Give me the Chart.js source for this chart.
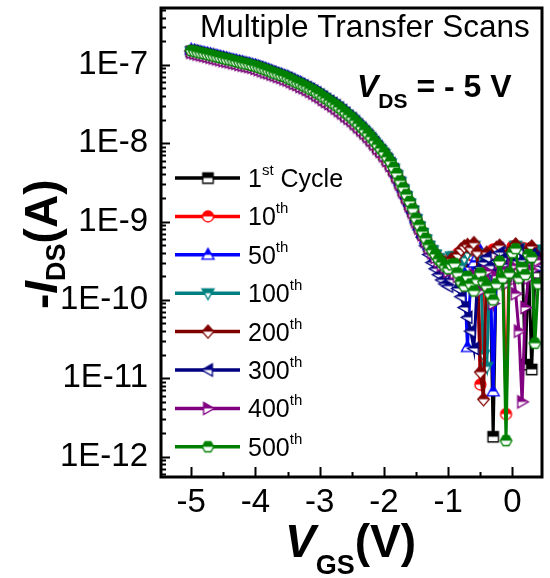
<!DOCTYPE html>
<html>
<head>
<meta charset="utf-8">
<script src="https://cdn.jsdelivr.net/npm/chart.js@4.4.1/dist/chart.umd.min.js"></script>
<style>
  html, body { margin: 0; padding: 0; background: #fff; }
</style>
</head>
<body>
<canvas id="transferChart" width="550" height="578"></canvas>
<script>
// gate voltage sweep (V), 50 mV steps
const vgs = [-5.00, -4.95, -4.90, -4.85, -4.80, -4.75, -4.70, -4.65, -4.60, -4.55,
             -4.50, -4.45, -4.40, -4.35, -4.30, -4.25, -4.20, -4.15, -4.10, -4.05,
             -4.00, -3.95, -3.90, -3.85, -3.80, -3.75, -3.70, -3.65, -3.60, -3.55,
             -3.50, -3.45, -3.40, -3.35, -3.30, -3.25, -3.20, -3.15, -3.10, -3.05,
             -3.00, -2.95, -2.90, -2.85, -2.80, -2.75, -2.70, -2.65, -2.60, -2.55,
             -2.50, -2.45, -2.40, -2.35, -2.30, -2.25, -2.20, -2.15, -2.10, -2.05,
             -2.00, -1.95, -1.90, -1.85, -1.80, -1.75, -1.70, -1.65, -1.60, -1.55,
             -1.50, -1.45, -1.40, -1.35, -1.30, -1.25, -1.20, -1.15, -1.10, -1.05,
             -1.00, -0.95, -0.90, -0.85, -0.80, -0.75, -0.70, -0.65, -0.60, -0.55,
             -0.50, -0.45, -0.40, -0.35, -0.30, -0.25, -0.20, -0.15, -0.10, -0.05,
              0.00,  0.05,  0.10,  0.15,  0.20,  0.25,  0.30,  0.35,  0.40];

// -I_DS (A) for each scan
const cycle1 = [1.48e-7, 1.45e-7, 1.41e-7, 1.38e-7, 1.35e-7, 1.32e-7, 1.29e-7, 1.26e-7, 1.23e-7, 1.20e-7,
                1.17e-7, 1.145e-7, 1.12e-7, 1.095e-7, 1.07e-7, 1.045e-7, 1.02e-7, 1.00e-7, 9.8e-8, 9.55e-8,
                9.3e-8, 9.0e-8, 8.7e-8, 8.4e-8, 8.1e-8, 7.85e-8, 7.6e-8, 7.35e-8, 7.1e-8, 6.85e-8,
                6.6e-8, 6.3e-8, 6.0e-8, 5.75e-8, 5.5e-8, 5.25e-8, 5.0e-8, 4.75e-8, 4.5e-8, 4.25e-8,
                4.0e-8, 3.75e-8, 3.5e-8, 3.3e-8, 3.1e-8, 2.9e-8, 2.7e-8, 2.5e-8, 2.3e-8, 2.15e-8,
                2.0e-8, 1.82e-8, 1.66e-8, 1.52e-8, 1.38e-8, 1.25e-8, 1.12e-8, 1.0e-8, 8.9e-9, 8.0e-9,
                7.1e-9, 6.2e-9, 5.4e-9, 4.6e-9, 3.8e-9, 3.1e-9, 2.5e-9, 2.05e-9, 1.66e-9, 1.35e-9,
                1.05e-9, 8.5e-10, 7.0e-10, 5.8e-10, 4.8e-10, 4.2e-10, 3.7e-10, 3.3e-10, 3.0e-10, 2.8e-10,
                2.6e-10, 3.3e-10, 3.2e-10, 3.0e-10, 2.9e-10, 2.7e-10, 2.6e-10, 3.3e-10, 3.8e-10, 3.0e-10,
                2.4e-10, 2.9e-10, 3.1e-10, 2.6e-10, 1.8e-12, 3.0e-10, 3.4e-10, 2.7e-10, 2.0e-10, 3.5e-10,
                4.1e-10, 3.2e-10, 2.5e-10, 3.6e-10, 1.5e-11, 3.3e-10, 1.3e-11, 2.2e-10, 3.0e-10];
const cycle10 = [1.47e-7, 1.44e-7, 1.41e-7, 1.37e-7, 1.34e-7, 1.31e-7, 1.29e-7, 1.25e-7, 1.22e-7, 1.19e-7,
                 1.17e-7, 1.14e-7, 1.11e-7, 1.09e-7, 1.07e-7, 1.04e-7, 1.02e-7, 9.95e-8, 9.7e-8, 9.5e-8,
                 9.2e-8, 8.95e-8, 8.7e-8, 8.35e-8, 8.1e-8, 7.8e-8, 7.55e-8, 7.3e-8, 7.1e-8, 6.8e-8,
                 6.5e-8, 6.25e-8, 6.0e-8, 5.7e-8, 5.5e-8, 5.2e-8, 4.9e-8, 4.7e-8, 4.5e-8, 4.2e-8,
                 4.0e-8, 3.7e-8, 3.5e-8, 3.28e-8, 3.1e-8, 2.88e-8, 2.7e-8, 2.48e-8, 2.3e-8, 2.13e-8,
                 1.98e-8, 1.8e-8, 1.65e-8, 1.5e-8, 1.37e-8, 1.24e-8, 1.11e-8, 9.9e-9, 8.8e-9, 7.9e-9,
                 7.0e-9, 6.1e-9, 5.3e-9, 4.5e-9, 3.7e-9, 3.05e-9, 2.5e-9, 2.0e-9, 1.63e-9, 1.33e-9,
                 1.04e-9, 8.4e-10, 6.9e-10, 5.7e-10, 4.8e-10, 4.1e-10, 3.7e-10, 3.3e-10, 3.1e-10, 2.9e-10,
                 2.8e-10, 3.5e-10, 3.4e-10, 3.9e-10, 3.0e-10, 4.2e-10, 4.6e-10, 3.8e-10, 3.6e-10, 4.3e-10,
                 8.3e-12, 3.2e-10, 2.8e-10, 3.9e-10, 4.4e-10, 3.6e-10, 3.0e-10, 4.1e-10, 3.5e-12, 3.8e-10,
                 4.8e-10, 4.0e-10, 3.3e-10, 4.6e-10, 4.5e-10, 3.1e-10, 2.7e-10, 3.6e-10, 3.9e-10];
const cycle50 = [1.56e-7, 1.52e-7, 1.48e-7, 1.45e-7, 1.42e-7, 1.39e-7, 1.36e-7, 1.33e-7, 1.30e-7, 1.27e-7,
                 1.24e-7, 1.21e-7, 1.18e-7, 1.15e-7, 1.13e-7, 1.10e-7, 1.08e-7, 1.05e-7, 1.03e-7, 1.00e-7,
                 9.8e-8, 9.5e-8, 9.2e-8, 8.9e-8, 8.6e-8, 8.3e-8, 8.0e-8, 7.7e-8, 7.5e-8, 7.2e-8,
                 7.0e-8, 6.7e-8, 6.4e-8, 6.1e-8, 5.9e-8, 5.6e-8, 5.3e-8, 5.0e-8, 4.8e-8, 4.5e-8,
                 4.3e-8, 4.0e-8, 3.8e-8, 3.5e-8, 3.3e-8, 3.1e-8, 2.9e-8, 2.7e-8, 2.5e-8, 2.3e-8,
                 2.15e-8, 1.96e-8, 1.8e-8, 1.64e-8, 1.5e-8, 1.36e-8, 1.22e-8, 1.09e-8, 9.7e-9, 8.7e-9,
                 7.7e-9, 6.8e-9, 5.9e-9, 5.0e-9, 4.1e-9, 3.3e-9, 2.7e-9, 2.2e-9, 1.78e-9, 1.44e-9,
                 1.1e-9, 8.9e-10, 7.3e-10, 6.0e-10, 5.0e-10, 4.3e-10, 3.7e-10, 3.2e-10, 2.9e-10, 2.6e-10,
                 2.4e-10, 2.9e-10, 2.9e-10, 2.5e-10, 3.3e-10, 2.2e-10, 2.5e-11, 1.8e-10, 3.0e-10, 3.6e-10,
                 4.2e-10, 3.1e-10, 2.6e-10, 3.0e-10, 6.8e-12, 2.8e-10, 3.7e-10, 4.5e-10, 2.4e-10, 3.2e-10,
                 4.4e-10, 3.7e-10, 2.9e-10, 4.0e-10, 3.5e-10, 2.6e-10, 4.1e-10, 3.3e-10, 2.7e-10];
const cycle100 = [1.49e-7, 1.46e-7, 1.42e-7, 1.39e-7, 1.36e-7, 1.33e-7, 1.30e-7, 1.27e-7, 1.24e-7, 1.21e-7,
                  1.18e-7, 1.15e-7, 1.13e-7, 1.10e-7, 1.08e-7, 1.05e-7, 1.03e-7, 1.01e-7, 9.9e-8, 9.6e-8,
                  9.4e-8, 9.1e-8, 8.8e-8, 8.5e-8, 8.2e-8, 7.9e-8, 7.7e-8, 7.4e-8, 7.2e-8, 6.9e-8,
                  6.7e-8, 6.4e-8, 6.1e-8, 5.8e-8, 5.55e-8, 5.3e-8, 5.05e-8, 4.8e-8, 4.55e-8, 4.3e-8,
                  4.05e-8, 3.8e-8, 3.55e-8, 3.35e-8, 3.15e-8, 2.93e-8, 2.73e-8, 2.53e-8, 2.33e-8, 2.17e-8,
                  2.02e-8, 1.84e-8, 1.68e-8, 1.54e-8, 1.39e-8, 1.26e-8, 1.13e-8, 1.01e-8, 9.0e-9, 8.1e-9,
                  7.2e-9, 6.3e-9, 5.5e-9, 4.7e-9, 3.9e-9, 3.2e-9, 2.55e-9, 2.1e-9, 1.7e-9, 1.38e-9,
                  1.07e-9, 8.6e-10, 7.1e-10, 5.9e-10, 4.9e-10, 4.3e-10, 3.8e-10, 3.4e-10, 3.1e-10, 2.9e-10,
                  2.7e-10, 3.6e-10, 3.6e-10, 3.1e-10, 2.7e-10, 3.4e-10, 3.9e-10, 4.4e-10, 4.9e-10, 3.9e-10,
                  3.2e-10, 2.0e-11, 1.4e-11, 3.3e-10, 2.9e-10, 3.5e-10, 4.3e-10, 3.4e-10, 2.6e-10, 3.1e-10,
                  3.8e-10, 4.9e-10, 4.6e-10, 3.5e-10, 2.8e-10, 3.9e-10, 3.4e-10, 4.4e-10, 4.2e-10];
const cycle200 = [1.48e-7, 1.45e-7, 1.42e-7, 1.38e-7, 1.35e-7, 1.32e-7, 1.29e-7, 1.26e-7, 1.23e-7, 1.20e-7,
                  1.18e-7, 1.15e-7, 1.12e-7, 1.10e-7, 1.07e-7, 1.05e-7, 1.02e-7, 1.00e-7, 9.8e-8, 9.55e-8,
                  9.3e-8, 9.0e-8, 8.7e-8, 8.45e-8, 8.2e-8, 7.9e-8, 7.6e-8, 7.35e-8, 7.1e-8, 6.85e-8,
                  6.6e-8, 6.3e-8, 6.0e-8, 5.75e-8, 5.5e-8, 5.25e-8, 5.0e-8, 4.75e-8, 4.5e-8, 4.25e-8,
                  4.0e-8, 3.75e-8, 3.5e-8, 3.3e-8, 3.1e-8, 2.9e-8, 2.7e-8, 2.5e-8, 2.3e-8, 2.15e-8,
                  2.0e-8, 1.83e-8, 1.67e-8, 1.52e-8, 1.38e-8, 1.25e-8, 1.12e-8, 1.0e-8, 8.9e-9, 8.0e-9,
                  7.1e-9, 6.2e-9, 5.4e-9, 4.6e-9, 3.8e-9, 3.1e-9, 2.5e-9, 2.05e-9, 1.67e-9, 1.36e-9,
                  1.06e-9, 8.5e-10, 7.0e-10, 5.9e-10, 4.9e-10, 4.3e-10, 3.8e-10, 3.4e-10, 3.1e-10, 2.9e-10,
                  2.8e-10, 3.3e-10, 3.1e-10, 3.8e-10, 4.4e-10, 4.8e-10, 5.0e-10, 4.6e-10, 5.3e-10, 4.1e-10,
                  1.2e-11, 5.4e-12, 4.0e-10, 3.6e-10, 3.9e-10, 4.6e-10, 4.9e-10, 3.7e-10, 3.2e-10, 4.0e-10,
                  4.5e-10, 5.1e-10, 2.7e-10, 3.3e-10, 3.6e-10, 4.4e-10, 4.8e-10, 3.9e-10, 3.3e-10];
const cycle300 = [1.50e-7, 1.47e-7, 1.43e-7, 1.40e-7, 1.37e-7, 1.34e-7, 1.31e-7, 1.28e-7, 1.25e-7, 1.22e-7,
                  1.19e-7, 1.16e-7, 1.14e-7, 1.11e-7, 1.09e-7, 1.06e-7, 1.04e-7, 1.02e-7, 9.9e-8, 9.7e-8,
                  9.4e-8, 9.15e-8, 8.85e-8, 8.55e-8, 8.25e-8, 8.0e-8, 7.7e-8, 7.45e-8, 7.2e-8, 6.95e-8,
                  6.7e-8, 6.4e-8, 6.1e-8, 5.85e-8, 5.6e-8, 5.35e-8, 5.1e-8, 4.85e-8, 4.6e-8, 4.35e-8,
                  4.1e-8, 3.85e-8, 3.6e-8, 3.4e-8, 3.2e-8, 3.0e-8, 2.8e-8, 2.6e-8, 2.4e-8, 2.2e-8,
                  2.05e-8, 1.87e-8, 1.7e-8, 1.55e-8, 1.4e-8, 1.27e-8, 1.14e-8, 1.02e-8, 9.1e-9, 8.1e-9,
                  7.2e-9, 6.3e-9, 5.5e-9, 4.6e-9, 3.8e-9, 3.1e-9, 2.5e-9, 2.0e-9, 1.62e-9, 1.3e-9,
                  1.02e-9, 8.0e-10, 6.3e-10, 4.9e-10, 3.8e-10, 3.0e-10, 2.5e-10, 2.1e-10, 1.8e-10, 1.6e-10,
                  1.5e-10, 1.8e-10, 2.0e-10, 1.4e-10, 1.1e-10, 8.0e-11, 6.0e-11, 4.0e-11, 2.4e-11, 1.5e-10,
                  2.6e-10, 3.0e-10, 3.5e-10, 2.7e-10, 2.2e-10, 3.1e-10, 4.0e-10, 3.4e-10, 2.8e-10, 2.5e-10,
                  3.1e-10, 3.9e-10, 4.3e-10, 3.2e-10, 2.5e-10, 2.9e-10, 3.8e-10, 3.5e-10, 3.0e-10];
const cycle400 = [1.44e-7, 1.41e-7, 1.37e-7, 1.34e-7, 1.31e-7, 1.28e-7, 1.25e-7, 1.22e-7, 1.19e-7, 1.16e-7,
                  1.13e-7, 1.11e-7, 1.09e-7, 1.06e-7, 1.04e-7, 1.01e-7, 9.9e-8, 9.7e-8, 9.5e-8, 9.3e-8,
                  9.0e-8, 8.7e-8, 8.4e-8, 8.1e-8, 7.9e-8, 7.6e-8, 7.4e-8, 7.1e-8, 6.9e-8, 6.6e-8,
                  6.4e-8, 6.1e-8, 5.8e-8, 5.6e-8, 5.3e-8, 5.1e-8, 4.85e-8, 4.6e-8, 4.35e-8, 4.1e-8,
                  3.9e-8, 3.6e-8, 3.4e-8, 3.2e-8, 3.0e-8, 2.8e-8, 2.6e-8, 2.42e-8, 2.23e-8, 2.08e-8,
                  1.94e-8, 1.77e-8, 1.61e-8, 1.47e-8, 1.34e-8, 1.21e-8, 1.09e-8, 9.7e-9, 8.6e-9, 7.8e-9,
                  6.9e-9, 6.0e-9, 5.2e-9, 4.5e-9, 3.7e-9, 3.0e-9, 2.4e-9, 2.0e-9, 1.6e-9, 1.3e-9,
                  1.0e-9, 8.2e-10, 6.8e-10, 5.6e-10, 4.6e-10, 4.0e-10, 3.5e-10, 3.1e-10, 2.8e-10, 2.6e-10,
                  2.3e-10, 2.5e-10, 2.2e-10, 2.0e-10, 1.9e-10, 1.7e-10, 1.5e-10, 1.8e-10, 2.1e-10, 1.6e-10,
                  1.3e-10, 1.9e-10, 2.3e-10, 1.5e-10, 9.0e-11, 2.0e-10, 3.0e-10, 2.4e-10, 1.6e-10, 2.2e-10,
                  2.7e-10, 1.2e-10, 4.0e-11, 5.0e-12, 8.0e-11, 1.9e-10, 2.4e-10, 2.9e-10, 3.2e-10];
const cycle500 = [1.52e-7, 1.49e-7, 1.45e-7, 1.42e-7, 1.39e-7, 1.36e-7, 1.33e-7, 1.30e-7, 1.27e-7, 1.24e-7,
                  1.21e-7, 1.18e-7, 1.16e-7, 1.13e-7, 1.10e-7, 1.08e-7, 1.05e-7, 1.03e-7, 1.01e-7, 9.8e-8,
                  9.6e-8, 9.3e-8, 9.0e-8, 8.7e-8, 8.4e-8, 8.1e-8, 7.8e-8, 7.6e-8, 7.3e-8, 7.1e-8,
                  6.8e-8, 6.5e-8, 6.2e-8, 5.9e-8, 5.7e-8, 5.4e-8, 5.2e-8, 4.9e-8, 4.7e-8, 4.4e-8,
                  4.2e-8, 3.9e-8, 3.7e-8, 3.45e-8, 3.25e-8, 3.05e-8, 2.85e-8, 2.65e-8, 2.45e-8, 2.27e-8,
                  2.1e-8, 1.92e-8, 1.75e-8, 1.6e-8, 1.46e-8, 1.32e-8, 1.19e-8, 1.06e-8, 9.5e-9, 8.5e-9,
                  7.6e-9, 6.6e-9, 5.8e-9, 4.9e-9, 4.1e-9, 3.3e-9, 2.7e-9, 2.2e-9, 1.8e-9, 1.45e-9,
                  1.1e-9, 9.0e-10, 7.4e-10, 6.1e-10, 5.0e-10, 4.3e-10, 3.8e-10, 3.3e-10, 3.0e-10, 2.7e-10,
                  2.5e-10, 2.8e-10, 2.9e-10, 2.2e-10, 1.7e-10, 1.5e-10, 2.0e-10, 1.6e-10, 1.3e-10, 1.8e-10,
                  2.2e-10, 1.7e-10, 1.5e-10, 1.2e-10, 1.0e-10, 1.6e-10, 3.1e-10, 1.9e-10, 1.6e-12, 2.2e-10,
                  4.0e-10, 4.5e-10, 1.9e-10, 2.6e-10, 2.1e-10, 3.8e-10, 3.5e-10, 2.8e-11, 1.6e-10];

const seriesNames = ['1st Cycle', '10th', '50th', '100th', '200th', '300th', '400th', '500th'];
const seriesData = [cycle1, cycle10, cycle50, cycle100, cycle200, cycle300, cycle400, cycle500];
const seriesColors = ['#000000', '#ff0000', '#0000ff', '#008080', '#800000', '#000080', '#800080', '#008000'];
const seriesShapes = ['square', 'circle', 'up', 'down', 'diamond', 'left', 'right', 'hexagon'];

const xTicks = [-5, -4, -3, -2, -1, 0];
const yTicks = [1e-12, 1e-11, 1e-10, 1e-9, 1e-8, 1e-7];

const FONT = "'Liberation Sans', Arial, sans-serif";

// Origin style "half up" symbols: top half solid, bottom half hollow
function shapePath(c, shape, r) {
    c.beginPath();
    switch (shape) {
        case 'square':
            c.rect(-r * 0.95, -r * 0.95, r * 1.9, r * 1.9);
            break;
        case 'circle':
            c.arc(0, 0, r, 0, Math.PI * 2);
            break;
        case 'up':
            c.moveTo(0, -r * 1.15); c.lineTo(r * 1.1, r * 0.8); c.lineTo(-r * 1.1, r * 0.8); c.closePath();
            break;
        case 'down':
            c.moveTo(0, r * 1.15); c.lineTo(r * 1.1, -r * 0.8); c.lineTo(-r * 1.1, -r * 0.8); c.closePath();
            break;
        case 'diamond':
            c.moveTo(0, -r * 1.2); c.lineTo(r * 1.05, 0); c.lineTo(0, r * 1.2); c.lineTo(-r * 1.05, 0); c.closePath();
            break;
        case 'left':
            c.moveTo(-r * 1.15, 0); c.lineTo(r * 0.8, -r * 1.1); c.lineTo(r * 0.8, r * 1.1); c.closePath();
            break;
        case 'right':
            c.moveTo(r * 1.15, 0); c.lineTo(-r * 0.8, -r * 1.1); c.lineTo(-r * 0.8, r * 1.1); c.closePath();
            break;
        default:
            for (let k = 0; k < 6; k++) {
                const a = Math.PI / 3 * k;
                const px = Math.cos(a) * r * 1.05, py = Math.sin(a) * r * 1.05;
                if (k === 0) c.moveTo(px, py); else c.lineTo(px, py);
            }
            c.closePath();
    }
}

function makeMarker(shape, color, r) {
    const size = Math.ceil(r * 2.6) + 2;
    const cv = document.createElement('canvas');
    cv.width = size;
    cv.height = size;
    const c = cv.getContext('2d');
    c.translate(size / 2, size / 2);
    shapePath(c, shape, r);
    c.fillStyle = '#ffffff';
    c.fill();
    c.save();
    c.beginPath();
    c.rect(-size, -size, size * 2, size);
    c.clip();
    shapePath(c, shape, r);
    c.fillStyle = color;
    c.fill();
    c.restore();
    shapePath(c, shape, r);
    c.lineWidth = 1.3;
    c.strokeStyle = color;
    c.stroke();
    return cv;
}

const markers = seriesShapes.map((s, i) => makeMarker(s, seriesColors[i], 5.5));

const datasets = seriesData.map((vals, i) => ({
    label: seriesNames[i],
    data: vgs.map((v, k) => ({ x: v, y: vals[k] })),
    borderColor: seriesColors[i],
    backgroundColor: seriesColors[i],
    borderWidth: 3,
    pointStyle: markers[i],
    pointRadius: 5,
    tension: 0,
    order: seriesData.length - i
}));

// draw runs of text with sub/superscripts, one after another
function drawRuns(c, x, y, runs) {
    runs.forEach(r => {
        c.font = r.font;
        c.fillText(r.text, x, y + (r.dy || 0));
        x += c.measureText(r.text).width;
    });
}

const framePlugin = {
    id: 'frame',
    afterDatasetsDraw(chart) {
        const { ctx, chartArea: a, scales } = chart;
        ctx.save();
        ctx.strokeStyle = '#000';
        ctx.lineWidth = 3;
        ctx.strokeRect(a.left, a.top, a.right - a.left, a.bottom - a.top);

        // inward ticks on the left axis: decades and 2..9 minors
        ctx.lineWidth = 2;
        const ys = scales.y;
        for (let e = -13; e <= -7; e++) {
            for (let m = 1; m <= 9; m++) {
                const v = m * Math.pow(10, e);
                if (v < ys.min || v > ys.max) continue;
                const py = Math.round(ys.getPixelForValue(v)) + 0.5;
                const len = m === 1 ? 9 : 5;
                ctx.beginPath();
                ctx.moveTo(a.left, py);
                ctx.lineTo(a.left + len, py);
                ctx.stroke();
            }
        }
        // inward ticks on the bottom axis: integers and halves
        const xs = scales.x;
        for (let v = -5.5; v <= 0.5; v += 0.5) {
            if (v < xs.min || v > xs.max) continue;
            const px = Math.round(xs.getPixelForValue(v)) + 0.5;
            const len = Number.isInteger(v) ? 10 : 5;
            ctx.beginPath();
            ctx.moveTo(px, a.bottom);
            ctx.lineTo(px, a.bottom - len);
            ctx.stroke();
        }
        ctx.restore();
    },
    afterDraw(chart) {
        const { ctx } = chart;
        ctx.save();
        ctx.fillStyle = '#000';
        ctx.textAlign = 'left';
        ctx.textBaseline = 'alphabetic';

        // titles inside the frame
        drawRuns(ctx, 200, 37, [{ text: 'Multiple Transfer Scans', font: '31.5px ' + FONT }]);
        drawRuns(ctx, 357, 97, [
            { text: 'V', font: 'italic bold 32px ' + FONT },
            { text: 'DS', font: 'bold 21px ' + FONT, dy: 11 },
            { text: ' = - 5 V', font: 'bold 32px ' + FONT }
        ]);

        // axis titles
        drawRuns(ctx, 285, 557, [
            { text: 'V', font: 'italic bold 46px ' + FONT },
            { text: 'GS', font: 'bold 27px ' + FONT, dy: 17 },
            { text: '(V)', font: 'bold 46px ' + FONT }
        ]);
        ctx.save();
        ctx.translate(57, 309);
        ctx.rotate(-Math.PI / 2);
        drawRuns(ctx, 0, 0, [
            { text: '-', font: 'bold 46px ' + FONT },
            { text: 'I', font: 'italic bold 46px ' + FONT },
            { text: 'DS', font: 'bold 27px ' + FONT, dy: 8 },
            { text: '(A)', font: 'bold 46px ' + FONT }
        ]);
        ctx.restore();

        // legend
        seriesNames.forEach((name, i) => {
            const ly = 178 + i * 38.4;
            ctx.strokeStyle = seriesColors[i];
            ctx.lineWidth = 3.5;
            ctx.beginPath();
            ctx.moveTo(175, ly);
            ctx.lineTo(240, ly);
            ctx.stroke();
            const mk = markers[i];
            ctx.drawImage(mk, 208 - mk.width / 2, ly - mk.height / 2);
            const parts = name.match(/^(\d+)(st|th)(.*)$/);
            drawRuns(ctx, 248, ly + 9, [
                { text: parts[1], font: '25px ' + FONT },
                { text: parts[2], font: '15px ' + FONT, dy: -12 },
                { text: parts[3], font: '25px ' + FONT }
            ]);
        });
        ctx.restore();
    }
};

const ctx = document.getElementById('transferChart').getContext('2d');
new Chart(ctx, {
    type: 'line',
    data: { datasets },
    options: {
        responsive: false,
        animation: false,
        layout: { padding: { top: 8, right: 3, left: 0, bottom: 0 } },
        plugins: {
            legend: { display: false },
            tooltip: { enabled: false }
        },
        scales: {
            x: {
                type: 'linear',
                min: -5.47,
                max: 0.46,
                grid: { display: false, drawTicks: false },
                border: { display: false },
                ticks: {
                    font: { family: FONT, size: 33 },
                    color: '#000',
                    padding: 6,
                    maxRotation: 0
                },
                afterBuildTicks: s => { s.ticks = xTicks.map(v => ({ value: v })); },
                afterFit: s => {
                    s.height = 101;
                    s.paddingLeft = 0;
                    s.paddingRight = 0;
                }
            },
            y: {
                type: 'logarithmic',
                min: 5.5e-13,
                max: 5.3e-7,
                grid: { display: false, drawTicks: false },
                border: { display: false },
                ticks: {
                    font: { family: FONT, size: 33 },
                    color: '#000',
                    padding: 13,
                    callback: v => '1E' + Math.round(Math.log10(v))
                },
                afterBuildTicks: s => { s.ticks = yTicks.map(v => ({ value: v })); },
                afterFit: s => {
                    s.width = 161;
                    s.paddingTop = 0;
                    s.paddingBottom = 0;
                }
            }
        }
    },
    plugins: [framePlugin]
});
</script>
</body>
</html>
